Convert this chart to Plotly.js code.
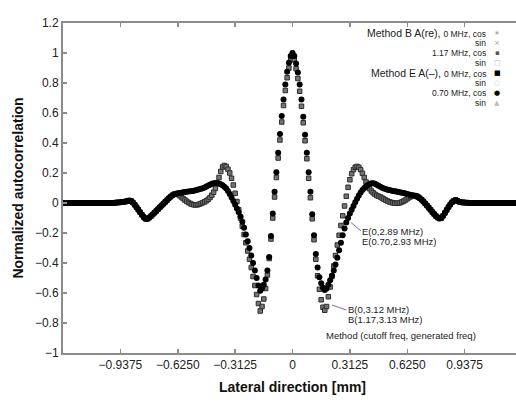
<!DOCTYPE html>
<html>
<head>
<meta charset="utf-8">
<script src="https://cdn.plot.ly/plotly-3.0.1.min.js"></script>
<style>
html,body{margin:0;padding:0;background:#fff;overflow:hidden;}
#chart{width:530px;height:405px;}
</style>
</head>
<body>
<div id="chart"></div>
<script>
// ---- data ----
// samples along the lateral direction: start and spacing [mm]
const lateralStart = -1.25;
const lateralStep = 0.009765625;

// Method B curve (257 samples from -1.25 to 1.25 mm)
const methodB = [
0,0,0,0,0,0,0,0,0,0,0,0,0,0,0,0,
0,0,0,0,0,0,0,0,0,0,0,0,0,
0.002,0.003,0.004,0.005,0.006,
0.008,0.010,0.013,0.016,0.014,0.003,-0.012,-0.028,-0.045,-0.062,
-0.078,-0.094,-0.105,-0.106,-0.098,-0.088,-0.077,-0.065,-0.053,-0.041,
-0.029,-0.017,-0.005,0.007,0.019,0.031,0.042,0.051,
0.058,0.061,0.058,0.050,0.040,0.030,0.020,0.011,0.003,-0.004,
-0.009,-0.012,-0.013,-0.012,-0.008,-0.003,0.002,0.008,0.015,0.025,
0.037,0.052,0.072,0.097,0.130,0.170,0.210,0.240,0.250,0.243,
0.225,0.200,0.165,0.120,0.065,0.010,-0.045,-0.100,-0.155,-0.210,
-0.265,-0.320,-0.375,-0.430,-0.490,-0.550,-0.610,-0.670,-0.720,-0.690,
-0.640,-0.570,-0.480,-0.370,-0.240,-0.100,0.040,0.170,0.300,0.420,
0.540,0.650,0.750,0.835,0.900,0.955,
0.990,
0.955,0.895,0.830,0.745,0.645,0.535,0.415,0.295,0.165,0.035,
-0.105,-0.245,-0.375,-0.485,-0.575,-0.645,-0.695,-0.715,-0.690,-0.625,
-0.560,-0.490,-0.420,-0.350,-0.280,-0.215,-0.150,-0.085,-0.020,0.045,
0.105,0.155,0.195,0.222,0.238,0.244,0.238,0.222,0.198,0.170,
0.140,0.115,0.095,0.080,0.068,0.058,0.050,0.045,0.040,0.033,
0.026,0.019,0.013,0.008,0.004,0.001,-0.001,-0.002,-0.001,0.002,
0.007,0.013,0.020,0.028,0.036,0.043,0.048,0.050,0.048,
0.040,0.032,0.022,0.010,-0.003,-0.017,-0.031,-0.045,-0.060,-0.074,-0.087,
-0.097,-0.103,-0.100,-0.085,-0.066,-0.046,-0.027,-0.010,0.005,0.015,
0.020,0.014,0.008,0.005,0.004,0.003,0.002,0.001,
0,0,0,0,0,0,0,0,0,0,0,0,0,0,0,0,0,0,0,0,0,0,0,0,0,0,0,0,0,0
];

// Method E curve (257 samples from -1.25 to 1.25 mm)
const methodE = [
0,0,0,0,0,0,0,0,0,0,0,0,0,0,0,0,
0,0,0,0,0,0,0,0,0,0,0,0,0,
0.002,0.003,0.004,0.005,0.006,
0.008,0.010,0.013,0.016,0.014,0.003,-0.012,-0.028,-0.045,-0.062,
-0.078,-0.094,-0.105,-0.106,-0.098,-0.088,-0.077,-0.065,-0.053,-0.041,
-0.029,-0.017,-0.005,0.007,0.019,0.031,0.042,0.051,0.058,0.062,
0.065,0.067,0.069,0.071,0.073,0.075,0.077,0.078,0.080,0.082,
0.085,0.088,0.091,0.095,0.099,0.104,0.110,0.116,0.122,0.128,
0.132,0.134,0.133,0.130,0.125,0.118,0.108,0.096,0.080,0.060,
0.037,0.013,-0.012,-0.037,-0.062,-0.090,-0.125,-0.165,-0.210,-0.255,
-0.300,-0.350,-0.400,-0.450,-0.500,-0.550,-0.585,-0.570,-0.545,-0.510,
-0.450,-0.360,-0.220,-0.070,0.075,0.205,0.335,0.460,0.580,0.690,
0.790,0.875,0.935,0.980,
1.000,
0.980,0.930,0.870,0.790,0.690,0.575,0.455,0.335,0.205,0.075,
-0.075,-0.215,-0.340,-0.430,-0.495,-0.535,-0.565,-0.580,-0.570,-0.545,
-0.515,-0.485,-0.450,-0.410,-0.365,-0.315,-0.265,-0.215,-0.170,-0.130,
-0.100,-0.070,-0.045,-0.020,0.005,0.028,0.050,0.070,0.087,0.100,
0.110,0.120,0.127,0.131,0.131,0.128,0.122,0.115,0.108,0.102,
0.097,0.093,0.089,0.086,0.083,0.080,0.078,0.076,0.073,0.071,
0.068,0.066,0.063,0.060,0.057,0.054,0.051,0.048,0.045,0.040,
0.032,0.022,0.010,-0.003,-0.017,-0.031,-0.045,-0.060,-0.074,-0.087,
-0.097,-0.103,-0.100,-0.085,-0.066,-0.046,-0.027,-0.010,0.005,0.015,
0.020,0.014,0.008,0.005,0.004,0.003,0.002,0.001,
0,0,0,0,0,0,0,0,0,0,0,0,0,0,0,0,0,0,0,0,0,0,0,0,0,0,0,0,0,0
];

// tick labels
const xTickVals = [-0.9375, -0.625, -0.3125, 0, 0.3125, 0.625, 0.9375];
const xTickText = ["\u22120.9375", "\u22120.6250", "\u22120.3125", "0", "0.3125", "0.6250", "0.9375"];
const yTickVals = [-1, -0.8, -0.6, -0.4, -0.2, 0, 0.2, 0.4, 0.6, 0.8, 1, 1.2];
const yTickText = ["\u22121", "\u22120.8", "\u22120.6", "\u22120.4", "\u22120.2", "0", "0.2", "0.4", "0.6", "0.8", "1", "1.2"];

// legend rows (text, symbol glyph)
const legendLabels = [
  "Method B A(re), <span style='font-size:8.5px'>0 MHz, cos</span>",
  "sin",
  "1.17 MHz, cos",
  "sin",
  "Method E A(\u2013), <span style='font-size:8.5px'>0 MHz, cos</span>",
  "sin",
  "0.70 MHz, cos",
  "sin"
];
const legendGlyphs = ["\u2217", "\u00d7", "\u25aa", "\u25a1", "\u25a0", "\u25cb", "\u25cf", "\u25b2"];

// ---- layout geometry (pixels) ----
const W = 530, H = 405;
const M = {l: 63, r: 8, t: 23, b: 52};
const PW = W - M.l - M.r, PH = H - M.t - M.b;
const fx = p => (p - M.l) / PW;
const fy = p => (H - M.b - p) / PH;
const FONT = "Arial, 'Liberation Sans', sans-serif";

const traces = [
  {
    type: 'scatter', mode: 'markers', name: 'Method B A(re)',
    x0: lateralStart, dx: lateralStep, y: methodB,
    marker: {symbol: 'square', size: 4.5, color: '#747474', line: {color: '#2e2e2e', width: 1}},
    hoverinfo: 'skip'
  },
  {
    type: 'scatter', mode: 'markers', name: 'Method E A(\u2013)',
    x0: lateralStart, dx: lateralStep, y: methodE,
    marker: {symbol: 'circle', size: 6, color: '#000000'},
    hoverinfo: 'skip'
  }
];

const legendRowsY = [33.3, 43.3, 52.7, 62.7, 72.7, 82.7, 93.3, 103.3];
const glyphColors = ['#a0a0a0', '#9a9a9a', '#555555', '#b5b5b5', '#000000', '#c0c0c0', '#000000', '#bdbdbd'];

const annotations = [];
legendLabels.forEach((t, i) => {
  const big = t.indexOf('Method') === 0;
  annotations.push({
    xref: 'paper', yref: 'paper', x: fx(487), y: fy(legendRowsY[i]),
    xanchor: 'right', yanchor: 'middle', showarrow: false, borderpad: 0,
    text: t, font: {family: FONT, size: big ? 10.5 : 8.5, color: '#222'}
  });
  annotations.push({
    xref: 'paper', yref: 'paper', x: fx(497), y: fy(legendRowsY[i]),
    xanchor: 'center', yanchor: 'middle', showarrow: false, borderpad: 0,
    text: legendGlyphs[i], font: {family: "'DejaVu Sans', sans-serif", size: 7, color: glyphColors[i]}
  });
});

const notes = [
  {t: 'E(0,2.89 MHz)', x: 361, y: 231.5},
  {t: 'E(0.70,2.93 MHz)', x: 361, y: 241},
  {t: 'B(0,3.12 MHz)', x: 347, y: 309.5},
  {t: 'B(1.17,3.13 MHz)', x: 347, y: 319.5},
  {t: 'Method (cutoff freq, generated freq)', x: 324.5, y: 335.5}
];
notes.forEach(n => annotations.push({
  xref: 'paper', yref: 'paper', x: fx(n.x), y: fy(n.y),
  xanchor: 'left', yanchor: 'middle', showarrow: false, borderpad: 0,
  text: n.t, font: {family: FONT, size: 9.5, color: '#222'}
}));

const shapes = [
  {type: 'line', xref: 'paper', yref: 'paper', x0: fx(351), y0: fy(222.5), x1: fx(361), y1: fy(231), line: {color: '#7a70a8', width: 1}},
  {type: 'line', xref: 'paper', yref: 'paper', x0: fx(332), y0: fy(305), x1: fx(346.5), y1: fy(310), line: {color: '#7a70a8', width: 1}}
];

const axisCommon = {
  showline: true, linecolor: '#8c8c8c', linewidth: 2, mirror: 'ticks',
  ticks: 'inside', ticklen: 4, tickwidth: 1.5, tickcolor: '#8c8c8c',
  showgrid: false, zeroline: false,
  tickfont: {family: FONT, size: 12, color: '#222'}
};

const layout = {
  width: W, height: H, margin: M,
  paper_bgcolor: '#ffffff', plot_bgcolor: '#ffffff',
  showlegend: false,
  xaxis: Object.assign({}, axisCommon, {
    range: [-1.25, 1.25], tickmode: 'array', tickvals: xTickVals, ticktext: xTickText,
    title: {text: 'Lateral direction [mm]', font: {family: FONT, size: 14, color: '#111', weight: 'bold'}, standoff: 11}
  }),
  yaxis: Object.assign({}, axisCommon, {
    range: [-1, 1.2], tickmode: 'array', tickvals: yTickVals, ticktext: yTickText,
    title: {text: 'Normalized autocorrelation', font: {family: FONT, size: 14, color: '#111', weight: 'bold'}, standoff: 8}
  }),
  annotations: annotations,
  shapes: shapes
};

Plotly.newPlot('chart', traces, layout, {staticPlot: true, displayModeBar: false});
</script>
</body>
</html>
